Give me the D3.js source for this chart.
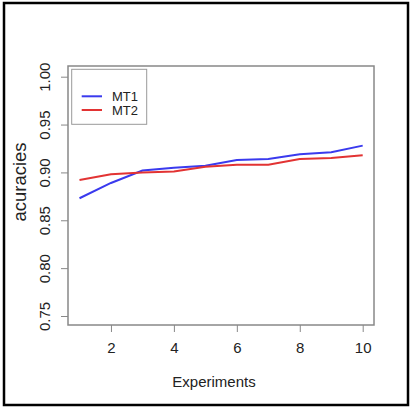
<!DOCTYPE html>
<html>
<head>
<meta charset="utf-8">
<script src="https://cdn.jsdelivr.net/npm/d3@7"></script>
<style>
  body { margin: 0; background: #fff; }
  svg { display: block; }
  text { font-family: "Liberation Sans", Arial, sans-serif; fill: #222; }
</style>
</head>
<body>
<svg id="chart"></svg>
<script>
const experiments = [1, 2, 3, 4, 5, 6, 7, 8, 9, 10];
const mt1 = [0.873, 0.889, 0.902, 0.905, 0.907, 0.913, 0.914, 0.919, 0.921, 0.928];
const mt2 = [0.892, 0.898, 0.900, 0.901, 0.906, 0.908, 0.908, 0.914, 0.915, 0.918];
const xTicks = [2, 4, 6, 8, 10];
const yTicks = [0.75, 0.80, 0.85, 0.90, 0.95, 1.00];
const seriesNames = ['MT1', 'MT2'];
const seriesColors = ['#3a3aee', '#e23333'];

const width = 413, height = 413;
const plot = { left: 68, top: 66, right: 374, bottom: 325 };

const svg = d3.select('#chart').attr('width', width).attr('height', height);

// outer frame
svg.append('rect')
    .attr('x', 4).attr('y', 3)
    .attr('width', 404).attr('height', 402)
    .attr('fill', 'none').attr('stroke', '#000').attr('stroke-width', 2.5);

const x = d3.scaleLinear().domain([1, 10]).range([79.5, 362.7]);
const y = d3.scaleLinear().domain([0.75, 1.00]).range([316, 76.7]);

// plot box
svg.append('rect')
    .attr('x', plot.left).attr('y', plot.top)
    .attr('width', plot.right - plot.left).attr('height', plot.bottom - plot.top)
    .attr('fill', 'none').attr('stroke', '#888').attr('stroke-width', 1.5);

// x axis
const xAxis = svg.append('g')
    .attr('transform', `translate(0,${plot.bottom})`)
    .call(d3.axisBottom(x).tickValues(xTicks).tickSize(7).tickPadding(10).tickFormat(d3.format('d')));
xAxis.select('.domain').remove();
xAxis.selectAll('line').attr('stroke', '#888');
xAxis.selectAll('text').style('font-size', '15px').style('font-family', '"Liberation Sans", Arial, sans-serif').attr('fill', '#222');

// y axis
const yAxis = svg.append('g')
    .attr('transform', `translate(${plot.left},0)`)
    .call(d3.axisLeft(y).tickValues(yTicks).tickSize(7).tickFormat(d3.format('.2f')));
yAxis.select('.domain').remove();
yAxis.selectAll('line').attr('stroke', '#888');
yAxis.selectAll('text')
    .attr('x', null)
    .attr('text-anchor', 'middle')
    .attr('transform', 'translate(-23,0) rotate(-90)')
    .attr('dy', '0.35em')
    .style('font-size', '15px').style('font-family', '"Liberation Sans", Arial, sans-serif').attr('fill', '#222');

// axis titles
svg.append('text')
    .attr('x', 214).attr('y', 387)
    .attr('text-anchor', 'middle')
    .style('font-size', '15px')
    .text('Experiments');

svg.append('text')
    .attr('transform', 'translate(20,182) rotate(-90)')
    .attr('text-anchor', 'middle')
    .attr('dy', '0.35em')
    .style('font-size', '18.5px')
    .text('acuracies');

// lines
const line = d3.line().x((d, i) => x(experiments[i])).y(d => y(d));
[mt1, mt2].forEach((vals, i) => {
    svg.append('path')
        .datum(vals)
        .attr('fill', 'none')
        .attr('stroke', seriesColors[i])
        .attr('stroke-width', 2)
        .attr('d', line);
});

// legend
svg.append('rect')
    .attr('x', 71.7).attr('y', 69.3)
    .attr('width', 75).attr('height', 55)
    .attr('fill', '#fff').attr('stroke', '#999').attr('stroke-width', 1);

seriesNames.forEach((name, i) => {
    const ly = 96.3 + i * 13.7;
    svg.append('line')
        .attr('x1', 81.7).attr('x2', 102)
        .attr('y1', ly).attr('y2', ly)
        .attr('stroke', seriesColors[i]).attr('stroke-width', 2);
    svg.append('text')
        .attr('x', 112).attr('y', ly)
        .attr('dy', '0.35em')
        .style('font-size', '13px')
        .text(name);
});
</script>
</body>
</html>
